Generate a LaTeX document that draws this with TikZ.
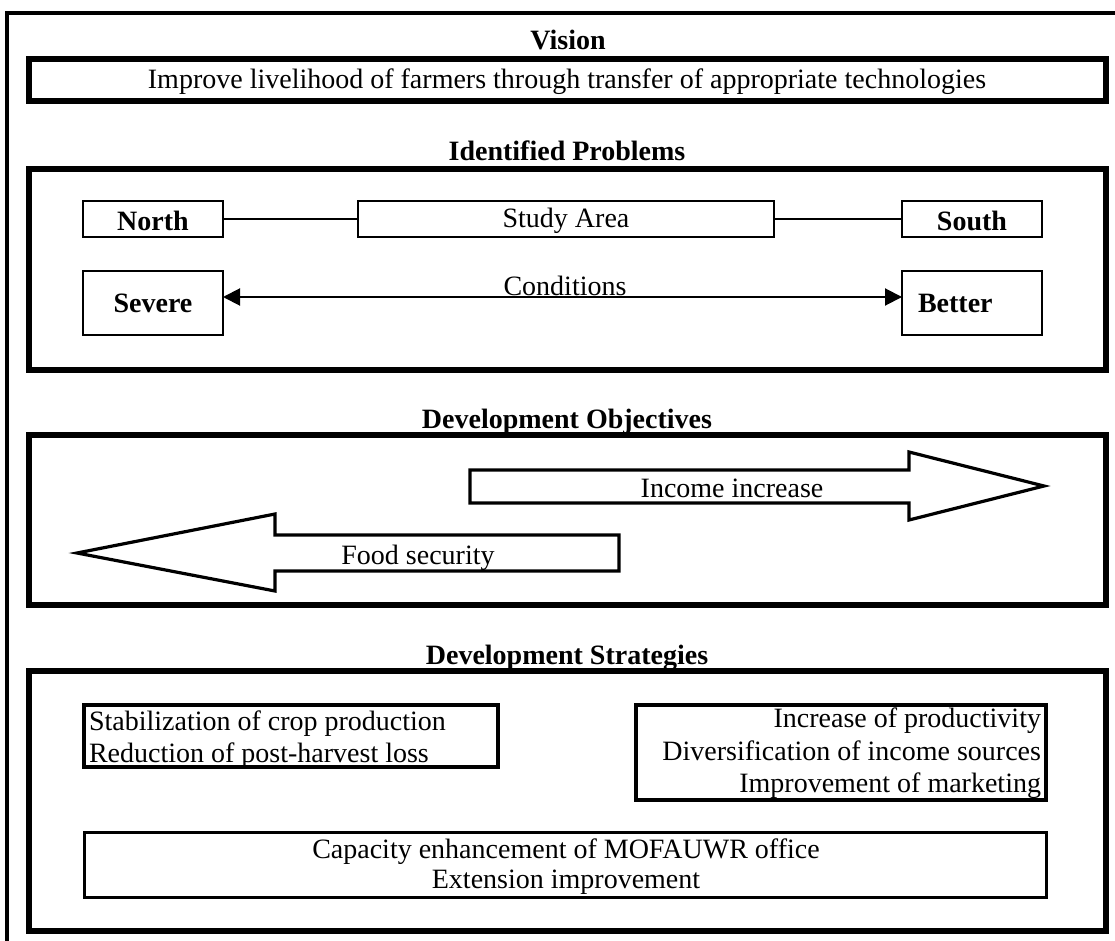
\documentclass[tikz,border=0pt]{standalone}
\usepackage{fontspec}
\setmainfont{Liberation Serif}
\usetikzlibrary{arrows.meta,fit}
\begin{document}
\begin{tikzpicture}[x=1pt,y=-1pt,
  >={Triangle[length=17pt,width=17pt]},
  every node/.style={font=\fontsize{28}{32}\selectfont, inner sep=0pt, outer sep=0pt},
  panel/.style={draw, line width=6pt},
  smallbox/.style={draw, line width=2.6pt},
  stratbox/.style={draw, line width=3.4pt},
  conn/.style={line width=2pt},
  blockarrow/.style={draw, line width=3.2pt, line join=miter, fill=white},
  txt/.style={anchor=base},
  ltxt/.style={anchor=base west},
  rtxt/.style={anchor=base east},
  head/.style={anchor=base, font=\fontsize{28}{32}\selectfont\bfseries}]

\clip (0,0) rectangle (1115,941);
\fill[white] (0,0) rectangle (1115,941);

% page frame (open to the right and bottom)
\draw[line width=3.5pt] (7,960) -- (7,13) -- (1130,13);

% ---- Vision ----
\node[head] (hvision) at (568,50) {Vision};
\node[panel, fit={(29,59) (1106,101)}] (vision) {};
\node[txt] (tvision) at (567,88.5) {Improve livelihood of farmers through transfer of appropriate technologies};

% ---- Identified Problems ----
\node[head] (hproblems) at (567,161) {Identified Problems};
\node[panel, fit={(29,169) (1106,370)}] (problems) {};
\node[smallbox, fit={(83,201) (223,237)}] (north) {};
\node[smallbox, fit={(358,201) (774,237)}] (study) {};
\node[smallbox, fit={(902,201) (1042,237)}] (south) {};
\node[smallbox, fit={(83,271) (223,335)}] (severe) {};
\node[smallbox, fit={(902,271) (1042,335)}] (better) {};
\node[head] (tnorth) at (153,230) {North};
\node[txt] (tstudy) at (566,228) {Study Area};
\node[head] (tsouth) at (972,230) {South};
\node[head] (tsevere) at (153,312) {Severe};
\node[head, anchor=base west] (tbetter) at (918,312) {Better};
\draw[conn] (north) -- (study);
\draw[conn] (study) -- (south);
\draw[conn, <->] ([yshift=6pt]severe.east) -- ([yshift=6pt]better.west);
\node[txt] (tcond) at (565,295) {Conditions};

% ---- Development Objectives ----
\node[head] (hobjectives) at (567,428) {Development Objectives};
\node[panel, fit={(29,435) (1106,605)}] (objectives) {};
\draw[blockarrow] (470,470) -- (909,470) -- (909,452) -- (1044,486)
  -- (909,520) -- (909,503) -- (470,503) -- cycle;
\node[txt] (tincome) at (732,497) {Income increase};
\draw[blockarrow] (619,535) -- (275,535) -- (275,514) -- (77,553)
  -- (275,591) -- (275,571) -- (619,571) -- cycle;
\node[txt] (tfood) at (418,564) {Food security};

% ---- Development Strategies ----
\node[head] (hstrategies) at (567,664) {Development Strategies};
\node[panel, fit={(29,671) (1106,931)}] (strategies) {};
\node[stratbox, fit={(84,705) (498,767)}] (sleft) {};
\node[ltxt] (sl1) at (89,730) {Stabilization of crop production};
\node[ltxt] (sl2) at (89,762) {Reduction of post-harvest loss};
\node[stratbox, fit={(636,705) (1046,800)}] (sright) {};
\node[rtxt] (sr1) at (1041,727) {Increase of productivity};
\node[rtxt] (sr2) at (1041,760) {Diversification of income sources};
\node[rtxt] (sr3) at (1041,792) {Improvement of marketing};
\node[smallbox, line width=3pt, fit={(84,832) (1046,897)}] (sbottom) {};
\node[txt] (sb1) at (566,858) {Capacity enhancement of MOFAUWR office};
\node[txt] (sb2) at (566,888) {Extension improvement};

\end{tikzpicture}
\end{document}
